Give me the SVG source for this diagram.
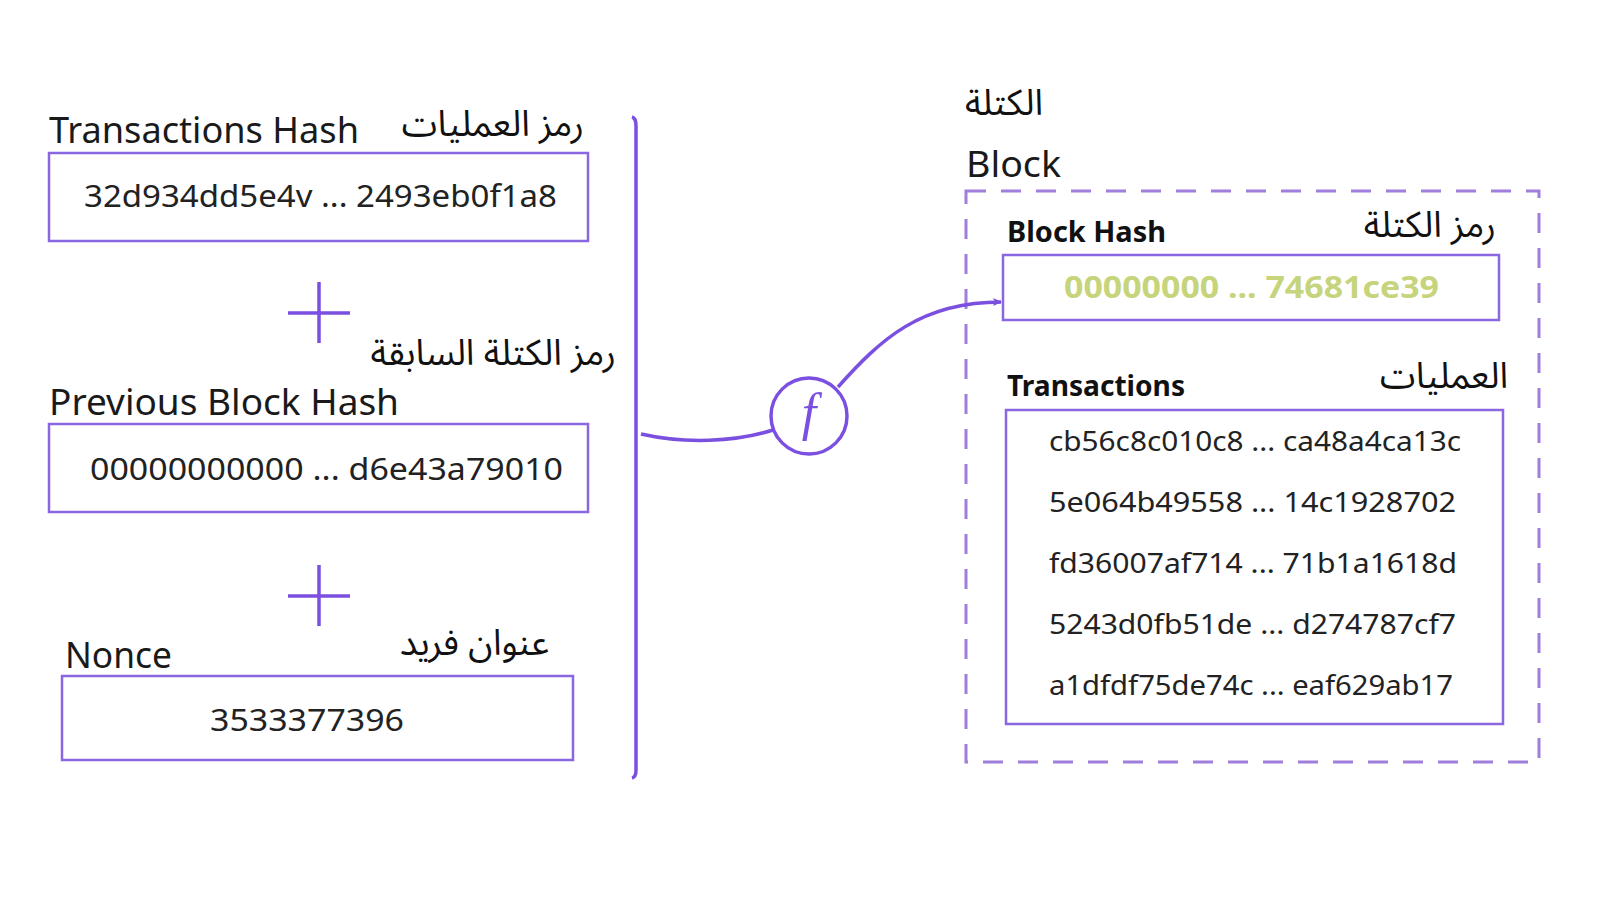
<svg xmlns="http://www.w3.org/2000/svg" width="1600" height="900" viewBox="0 0 1600 900">
<style>
.lbl{font-family:"Noto Sans","Open Sans",sans-serif;font-size:36px;fill:#1a1a1a}
.bold{font-family:"Noto Sans","Open Sans",sans-serif;font-size:29px;font-weight:bold;fill:#111}
.ar{font-family:"Noto Sans Arabic","DejaVu Sans",sans-serif;font-size:36px;fill:#111}
.hash{font-family:"Noto Sans","Open Sans",sans-serif;font-size:31px;fill:#222}
.tx{font-family:"Noto Sans","Open Sans",sans-serif;font-size:27px;fill:#222}
.box{fill:#fff;stroke:#8a66e0;stroke-width:2.5}
.plus{stroke:#7b4fe0;stroke-width:3.5;fill:none}
.conn{stroke:#7b4fe0;stroke-width:3.5;fill:none}
</style>
<defs>
<marker id="arr" markerWidth="10" markerHeight="10" refX="8" refY="5" orient="auto" markerUnits="userSpaceOnUse">
<path d="M0,1 L9,5 L0,9 L2,5 Z" fill="#7b4fe0"/>
</marker>
</defs>
<rect width="1600" height="900" fill="#fff"/>

<g id="tx-hash">
<text class="lbl" x="49" y="143" textLength="310" lengthAdjust="spacingAndGlyphs">Transactions Hash</text>
<text class="ar" x="584" y="136" text-anchor="end">رمز العمليات</text>
<rect class="box" x="49" y="153" width="539" height="88"/>
<text class="hash" x="84" y="207" textLength="473" lengthAdjust="spacingAndGlyphs">32d934dd5e4v ... 2493eb0f1a8</text>
</g>

<g id="plus1"><path class="plus" d="M288,313 H350 M319,282 V343"/></g>

<g id="prev-hash">
<text class="ar" x="616" y="365" text-anchor="end">رمز الكتلة السابقة</text>
<text class="lbl" x="49" y="415" textLength="350" lengthAdjust="spacingAndGlyphs">Previous Block Hash</text>
<rect class="box" x="49" y="424" width="539" height="88"/>
<text class="hash" x="90" y="480" textLength="473" lengthAdjust="spacingAndGlyphs">00000000000 ... d6e43a79010</text>
</g>

<g id="plus2"><path class="plus" d="M288,596 H350 M319,565 V626"/></g>

<g id="nonce">
<text class="lbl" x="65" y="668" textLength="107" lengthAdjust="spacingAndGlyphs">Nonce</text>
<text class="ar" x="549" y="655" text-anchor="end">عنوان فريد</text>
<rect class="box" x="62" y="676" width="511" height="84"/>
<text class="hash" x="210" y="731" textLength="194" lengthAdjust="spacingAndGlyphs">3533377396</text>
</g>

<g id="bracket"><path class="conn" d="M632,117 Q636,118 636,126 L636,770 Q636,777 632,778"/></g>

<g id="func">
<circle cx="809" cy="416" r="38" fill="#fff" stroke="#7b4fe0" stroke-width="3.5"/>
<text x="809" y="430" text-anchor="middle" font-family="Liberation Serif,serif" font-style="italic" font-size="52" fill="#7b4fe0">f</text>
</g>

<g id="block">
<text class="ar" x="1043" y="115" text-anchor="end" font-size="34">الكتلة</text>
<text class="lbl" x="966" y="177" textLength="95" lengthAdjust="spacingAndGlyphs">Block</text>
<rect x="966" y="191" width="573" height="571" fill="none" stroke="#a07fdc" stroke-width="3" stroke-dasharray="20 15"/>
</g>

<g id="block-hash">
<text class="bold" x="1007" y="242" textLength="159" lengthAdjust="spacingAndGlyphs">Block Hash</text>
<text class="ar" x="1496" y="237" text-anchor="end">رمز الكتلة</text>
<rect class="box" x="1003" y="255" width="496" height="65"/>
<text x="1064" y="298" textLength="375" lengthAdjust="spacingAndGlyphs" font-family="Noto Sans,sans-serif" font-weight="bold" font-size="30" fill="#c6d47c">00000000 ... 74681ce39</text>
</g>

<g id="transactions">
<text class="bold" x="1007" y="396" textLength="178" lengthAdjust="spacingAndGlyphs">Transactions</text>
<text class="ar" x="1508" y="388" text-anchor="end">العمليات</text>
<rect class="box" x="1006" y="410" width="497" height="314"/>
<text class="tx" x="1049" y="451" textLength="412" lengthAdjust="spacingAndGlyphs">cb56c8c010c8 ... ca48a4ca13c</text>
<text class="tx" x="1049" y="512" textLength="407" lengthAdjust="spacingAndGlyphs">5e064b49558 ... 14c1928702</text>
<text class="tx" x="1049" y="573" textLength="408" lengthAdjust="spacingAndGlyphs">fd36007af714 ... 71b1a1618d</text>
<text class="tx" x="1049" y="634" textLength="407" lengthAdjust="spacingAndGlyphs">5243d0fb51de ... d274787cf7</text>
<text class="tx" x="1049" y="695" textLength="404" lengthAdjust="spacingAndGlyphs">a1dfdf75de74c ... eaf629ab17</text>
</g>

<g id="connectors">
<path class="conn" d="M641,434 C685,444 735,442 773,430"/>
<path class="conn" d="M838,387 C880,340 920,302 1001,302" marker-end="url(#arr)"/>
</g>
</svg>
